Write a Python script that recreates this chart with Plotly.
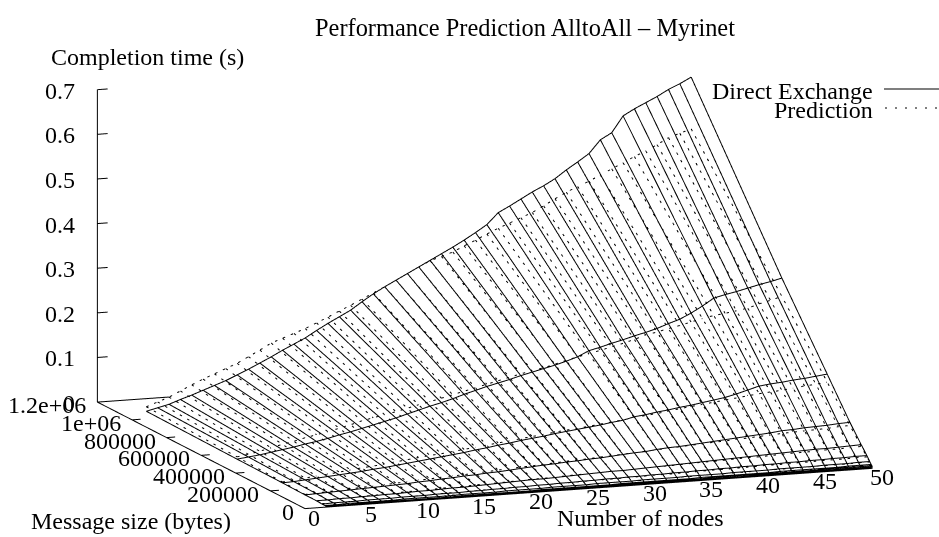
import math
import plotly.graph_objects as go

nodes = list(range(2, 51))
sizes = [1048576, 524288, 262144, 131072, 65536, 32768, 16384, 8192, 4096, 2048, 1024]

direct_1048576 = [.006,.012,.018,.027,.035,.044,.053,.062,.073,
 .084,.096,.108,.121,.133,.145,.160,.174,.187,.200,
 .217,.233,.247,.260,.273,.286,.299,.312,.325,.339,
 .354,.370,.395,.408,.422,.436,.448,.462,.480,.496,
 .513,.542,.556,.592,.606,.618,.630,.644,.655,.668]
direct_524288 = [.003,.006,.009,.013,.017,.021,.026,.030,.035,
 .041,.046,.052,.058,.064,.070,.077,.084,.091,.097,
 .104,.112,.119,.126,.132,.138,.145,.151,.157,.163,
 .170,.178,.190,.196,.203,.209,.216,.222,.229,.238,
 .246,.258,.272,.288,.294,.299,.305,.311,.316,.322]
direct_262144 = [.002,.003,.005,.007,.009,.011,.013,.015,.018,
 .020,.023,.026,.029,.032,.035,.038,.041,.045,.048,
 .052,.055,.059,.062,.065,.069,.072,.075,.078,.081,
 .085,.088,.094,.097,.101,.104,.108,.111,.115,.119,
 .123,.129,.136,.143,.146,.148,.151,.153,.156,.159]
direct_131072 = [.001,.002,.003,.004,.005,.006,.007,.008,.009,
 .010,.012,.013,.015,.016,.018,.019,.021,.022,.024,
 .026,.028,.030,.031,.033,.034,.036,.037,.039,.041,
 .043,.044,.047,.049,.050,.052,.054,.056,.058,.060,
 .062,.064,.066,.069,.070,.072,.073,.074,.076,.077]
direct_65536 = [.001,.001,.002,.002,.003,.003,.004,.004,.005,
 .006,.006,.007,.008,.008,.009,.010,.011,.012,.013,
 .014,.014,.015,.016,.017,.018,.019,.020,.020,.021,
 .022,.023,.024,.025,.026,.027,.028,.029,.030,.031,
 .032,.033,.034,.035,.036,.037,.037,.038,.039,.040]
direct_32768 = [.000,.001,.001,.001,.002,.002,.002,.003,.003,
 .003,.004,.004,.004,.005,.005,.006,.006,.007,.007,
 .008,.008,.009,.009,.010,.010,.011,.011,.012,.012,
 .013,.013,.014,.014,.015,.015,.016,.016,.017,.017,
 .018,.018,.019,.019,.020,.020,.021,.021,.022,.022]
direct_16384 = [.000,.000,.001,.001,.001,.001,.001,.002,.002,
 .002,.002,.002,.003,.003,.003,.003,.004,.004,.004,
 .004,.005,.005,.005,.005,.006,.006,.006,.006,.007,
 .007,.007,.007,.008,.008,.008,.008,.009,.009,.009,
 .009,.010,.010,.010,.010,.011,.011,.011,.012,.012]
direct_8192 = [0,0,0,.001,.001,.001,.001,.001,.001,
 .001,.001,.001,.002,.002,.002,.002,.002,.002,.002,
 .003,.003,.003,.003,.003,.003,.003,.004,.004,.004,
 .004,.004,.004,.004,.005,.005,.005,.005,.005,.005,
 .005,.006,.006,.006,.006,.006,.006,.007,.007,.007]
direct_4096 = [0,0,0,0,0,.001,.001,.001,.001,
 .001,.001,.001,.001,.001,.002,.002,.002,.002,.002,
 .002,.002,.002,.002,.002,.003,.003,.003,.003,.003,
 .003,.003,.003,.003,.003,.004,.004,.004,.004,.004,
 .004,.004,.004,.004,.004,.005,.005,.005,.005,.005]
direct_2048 = [0,0,0,0,0,0,0,0,.001,
 .001,.001,.001,.001,.001,.001,.001,.001,.001,.001,
 .001,.001,.001,.001,.002,.002,.002,.002,.002,.002,
 .002,.002,.002,.002,.002,.002,.002,.002,.002,.003,
 .003,.003,.003,.003,.003,.003,.003,.003,.003,.003]
direct_1024 = [0,0,0,0,0,0,0,0,0,
 0,0,0,0,0,.001,.001,.001,.001,.001,
 .001,.001,.001,.001,.001,.001,.001,.001,.001,.001,
 .001,.001,.001,.001,.001,.001,.001,.001,.001,.001,
 .001,.001,.001,.001,.001,.002,.002,.002,.002,.002]

prediction_1048576 = [.016,.025,.034,.046,.058,.069,.079,.089,.099,
 .112,.125,.139,.148,.157,.166,.177,.188,.200,.211,
 .223,.235,.247,.260,.273,.286,.298,.306,.314,.326,
 .337,.349,.360,.370,.380,.390,.403,.417,.430,.441,
 .451,.463,.475,.487,.499,.510,.522,.536,.544,.552]
prediction_524288 = [.008,.012,.017,.023,.029,.034,.040,.045,.050,
 .056,.062,.069,.074,.079,.084,.090,.096,.101,.107,
 .113,.119,.125,.131,.137,.143,.149,.154,.159,.165,
 .172,.178,.183,.189,.195,.201,.208,.216,.221,.227,
 .232,.238,.244,.249,.252,.256,.260,.268,.274,.281]
prediction_262144 = [.004,.006,.009,.012,.014,.017,.020,.023,.025,
 .028,.031,.034,.037,.040,.042,.045,.048,.051,.054,
 .057,.060,.063,.066,.069,.072,.075,.077,.080,.083,
 .086,.089,.092,.095,.098,.101,.105,.108,.111,.114,
 .117,.120,.123,.126,.128,.130,.133,.136,.138,.141]
prediction_131072 = [.002,.003,.005,.006,.007,.009,.010,.011,.013,
 .014,.016,.017,.019,.020,.021,.023,.024,.026,.027,
 .029,.030,.032,.033,.035,.036,.037,.039,.040,.042,
 .043,.045,.046,.048,.049,.051,.052,.054,.055,.057,
 .058,.060,.061,.063,.064,.065,.066,.067,.069,.070]
prediction_65536 = [.001,.002,.002,.003,.004,.004,.005,.006,.007,
 .007,.008,.009,.010,.010,.011,.012,.012,.013,.014,
 .015,.015,.016,.017,.018,.018,.019,.020,.020,.021,
 .022,.023,.023,.024,.025,.026,.026,.027,.028,.029,
 .029,.030,.031,.032,.032,.033,.034,.034,.035,.036]
prediction_32768 = [.001,.001,.001,.002,.002,.002,.003,.003,.003,
 .004,.004,.005,.005,.005,.006,.006,.007,.007,.007,
 .008,.008,.008,.009,.009,.010,.010,.010,.011,.011,
 .012,.012,.012,.013,.013,.014,.014,.014,.015,.015,
 .016,.016,.016,.017,.017,.018,.018,.018,.019,.019]
prediction_16384 = [0,.001,.001,.001,.001,.001,.002,.002,.002,
 .002,.002,.003,.003,.003,.003,.003,.004,.004,.004,
 .004,.005,.005,.005,.005,.005,.006,.006,.006,.006,
 .007,.007,.007,.007,.007,.008,.008,.008,.008,.009,
 .009,.009,.009,.009,.010,.010,.010,.010,.011,.011]
prediction_8192 = [0,0,.001,.001,.001,.001,.001,.001,.001,
 .001,.001,.002,.002,.002,.002,.002,.002,.002,.002,
 .002,.003,.003,.003,.003,.003,.003,.003,.003,.003,
 .004,.004,.004,.004,.004,.004,.004,.004,.004,.005,
 .005,.005,.005,.005,.005,.005,.005,.005,.006,.006]
prediction_4096 = [0,0,0,0,.001,.001,.001,.001,.001,
 .001,.001,.001,.001,.001,.001,.001,.001,.002,.002,
 .002,.002,.002,.002,.002,.002,.002,.002,.002,.003,
 .003,.003,.003,.003,.003,.003,.003,.003,.003,.003,
 .004,.004,.004,.004,.004,.004,.004,.004,.004,.004]
prediction_2048 = [0,0,0,0,0,0,0,0,.001,
 .001,.001,.001,.001,.001,.001,.001,.001,.001,.001,
 .001,.001,.001,.001,.001,.001,.001,.002,.002,.002,
 .002,.002,.002,.002,.002,.002,.002,.002,.002,.002,
 .002,.002,.002,.002,.002,.002,.003,.003,.003,.003]
prediction_1024 = [0,0,0,0,0,0,0,0,0,
 0,0,0,0,0,0,0,0,.001,.001,
 .001,.001,.001,.001,.001,.001,.001,.001,.001,.001,
 .001,.001,.001,.001,.001,.001,.001,.001,.001,.001,
 .001,.001,.001,.001,.001,.001,.001,.002,.002,.002]

direct_rows = [direct_1048576, direct_524288, direct_262144, direct_131072, direct_65536,
               direct_32768, direct_16384, direct_8192, direct_4096, direct_2048, direct_1024]
prediction_rows = [prediction_1048576, prediction_524288, prediction_262144, prediction_131072,
                   prediction_65536, prediction_32768, prediction_16384, prediction_8192,
                   prediction_4096, prediction_2048, prediction_1024]

node_ticks = [0, 5, 10, 15, 20, 25, 30, 35, 40, 45, 50]
size_ticks = [0, 200000, 400000, 600000, 800000, 1000000, 1200000]
size_tick_labels = ["0", "200000", "400000", "600000", "800000", "1e+06", "1.2e+06"]
time_ticks = [0, 0.1, 0.2, 0.3, 0.4, 0.5, 0.6, 0.7]
time_tick_labels = ["0", "0.1", "0.2", "0.3", "0.4", "0.5", "0.6", "0.7"]

X_MAX, Y_MAX, Z_MAX = 50, 1200000, 0.7
FONT = "Liberation Serif"
W, H = 939, 537
LINE_W = 2


def polylines(rows):
    out = []
    for s, row in zip(sizes, rows):
        out.append([(n, s, v) for n, v in zip(nodes, row)])
    for i, n in enumerate(nodes):
        out.append([(n, s, row[i]) for s, row in zip(sizes, rows)])
    return out


def solid(rows):
    xs, ys, zs = [], [], []
    for line in polylines(rows):
        for p in line:
            xs.append(p[0]); ys.append(p[1]); zs.append(p[2])
        xs.append(None); ys.append(None); zs.append(None)
    return xs, ys, zs


def screen_len(p, q):
    dx, dy, dz = (q[0] - p[0]) / X_MAX, (q[1] - p[1]) / Y_MAX, (q[2] - p[2]) / Z_MAX
    return math.hypot(567 * dx - 207 * dy, 40 * dx + 106 * dy + 313 * dz)


def dotted(rows, period=8.5, mark=2.5):
    # the gl dash pattern does not scale with the view, so the stroke of the dotted
    # wireframe is cut into short marks along each of its segments
    xs, ys, zs = [], [], []
    for line in polylines(rows):
        walked = 0.0
        for p, q in zip(line, line[1:]):
            L = screen_len(p, q)
            if L <= 0:
                continue
            k = math.ceil(walked / period)
            while k * period < walked + L:
                t0 = (k * period - walked) / L
                t1 = min(1.0, t0 + mark / L)
                for t in (t0, t1):
                    xs.append(p[0] + (q[0] - p[0]) * t)
                    ys.append(p[1] + (q[1] - p[1]) * t)
                    zs.append(p[2] + (q[2] - p[2]) * t)
                xs.append(None); ys.append(None); zs.append(None)
                k += 1
            walked += L
    return xs, ys, zs


fig = go.Figure()
dx_, dy_, dz_ = solid(direct_rows)
px_, py_, pz_ = dotted(prediction_rows)
fig.add_trace(go.Scatter3d(x=px_, y=py_, z=pz_, mode="lines", name="Prediction",
                           line=dict(color="black", width=LINE_W), showlegend=False))
fig.add_trace(go.Scatter3d(x=dx_, y=dy_, z=dz_, mode="lines", name="Direct Exchange",
                           line=dict(color="black", width=LINE_W), showlegend=False))

# axes frame
ax_x, ax_y, ax_z = [0, X_MAX, None, 0, 0, 0, None, 0, 6.3], [0, 0, None, 0, Y_MAX, Y_MAX, None, Y_MAX, Y_MAX], [0, 0, None, 0, 0, Z_MAX, None, 0, 0]
for s in size_ticks[1:-1]:
    ax_x += [None, 0, 0.75]; ax_y += [None, s, s]; ax_z += [None, 0, 0]
for t in time_ticks[1:]:
    ax_x += [None, 0, 0.9]; ax_y += [None, Y_MAX, Y_MAX]; ax_z += [None, t, t]
fig.add_trace(go.Scatter3d(x=ax_x, y=ax_y, z=ax_z, mode="lines",
                           line=dict(color="black", width=LINE_W), showlegend=False, hoverinfo="skip"))

FS = 24
tick_font = dict(family=FONT, size=FS, color="black")
scene_ann = []
for n in node_ticks:
    scene_ann.append(dict(x=n, y=0, z=0, text=str(n), showarrow=False, xanchor="center", yanchor="middle",
                          xshift=9, yshift=-9, font=tick_font))
for s, lab in zip(size_ticks, size_tick_labels):
    scene_ann.append(dict(x=0, y=s, z=0, text=lab, showarrow=False, xanchor="right", yanchor="middle",
                          xshift=-9, yshift=-3, font=tick_font))
for t, lab in zip(time_ticks, time_tick_labels):
    scene_ann.append(dict(x=0, y=Y_MAX, z=t, text=lab, showarrow=False, xanchor="right", yanchor="middle",
                          xshift=-20, yshift=-1, font=tick_font))

# gnuplot-like view: rotation about z 20.4 deg, polar angle 79 deg
a = math.radians(20.4)
b = math.radians(79)
R = 3
ZOOM = 2.347
eye = dict(x=-math.sin(a) * math.sin(b) * R, y=-math.cos(a) * math.sin(b) * R, z=math.cos(b) * R)
hidden = dict(visible=False)
fig.update_layout(
    width=W, height=H, margin=dict(l=0, r=0, t=0, b=0), paper_bgcolor="white", showlegend=False,
    scene=dict(
        domain=dict(x=[0.033, 1], y=[0, 0.961]),
        xaxis=dict(range=[0, X_MAX], **hidden),
        yaxis=dict(range=[0, Y_MAX], **hidden),
        zaxis=dict(range=[0, Z_MAX], **hidden),
        aspectmode="manual", aspectratio=dict(x=ZOOM, y=ZOOM * 595 / 605, z=ZOOM * 318 / 605),
        camera=dict(eye=eye, up=dict(x=0, y=0, z=1), center=dict(x=0, y=0, z=0),
                    projection=dict(type="orthographic")),
        annotations=scene_ann,
    ),
)


def label(text, x, y, anchor, size=FS):
    fig.add_annotation(text=text, xref="paper", yref="paper", x=x / W, y=1 - y / H, showarrow=False,
                       xanchor=anchor, yanchor="middle", font=dict(family=FONT, size=size, color="black"))


label("Performance Prediction AlltoAll \u2013 Myrinet", 525, 28, "center", 24.4)
label("Completion time (s)", 49, 57, "left")
label("Number of nodes", 640, 518, "center")
label("Message size (bytes)", 131, 521, "center")
label("Direct Exchange", 875, 91, "right")
label("Prediction", 875, 110, "right")
fig.add_shape(type="line", xref="paper", yref="paper", x0=884 / W, x1=939 / W, y0=1 - 89 / H, y1=1 - 89 / H,
              line=dict(color="black", width=1.2))
fig.add_shape(type="line", xref="paper", yref="paper", x0=885 / W, x1=939 / W, y0=1 - 108 / H, y1=1 - 108 / H,
              line=dict(color="black", width=1.2, dash="2px,8px"))

fig.write_html("out.html", config=dict(displayModeBar=False),
               post_script="document.body.style.margin='0';document.documentElement.style.overflow='hidden';")
